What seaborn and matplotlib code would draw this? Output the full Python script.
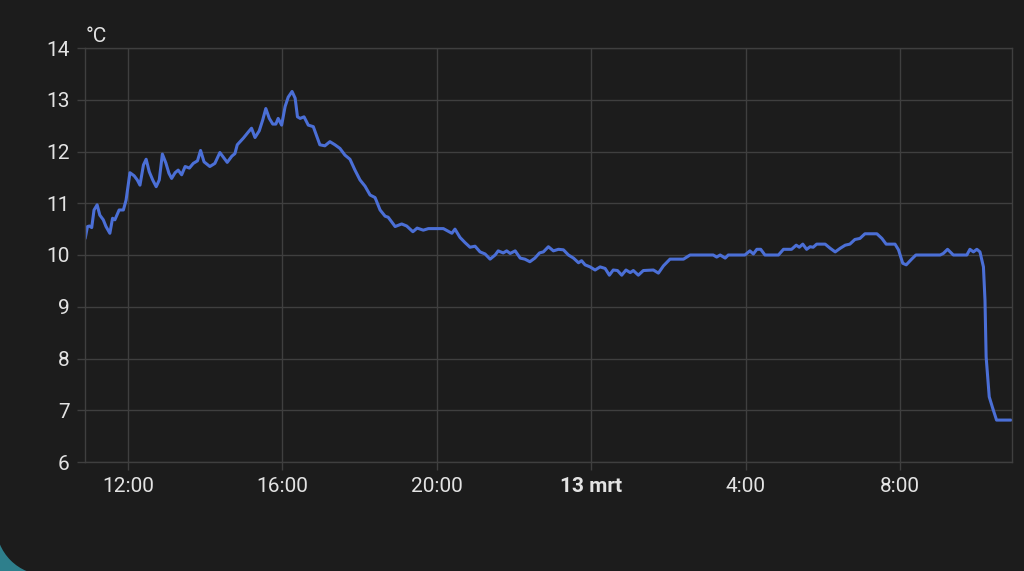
import matplotlib
matplotlib.use("Agg")
import matplotlib.pyplot as plt
import matplotlib.patches as mpatches
import seaborn as sns
import pandas as pd

# hours since 12 Mar 00:00
hours = [10.89, 10.95, 11.00, 11.06, 11.12, 11.20, 11.27, 11.36, 11.43, 11.53,
         11.60, 11.66, 11.77, 11.88, 11.95, 12.05, 12.16, 12.24, 12.31, 12.40,
         12.47, 12.55, 12.64, 12.73, 12.81, 12.89, 12.98, 13.06, 13.13, 13.22,
         13.30, 13.39, 13.48, 13.59, 13.69, 13.80, 13.88, 13.97, 14.12, 14.25,
         14.38, 14.49, 14.57, 14.69, 14.77, 14.83, 14.99, 15.12, 15.20, 15.29,
         15.40, 15.49, 15.57, 15.66, 15.75, 15.83, 15.89, 15.98, 16.07, 16.15,
         16.25, 16.33, 16.39, 16.46, 16.56, 16.67, 16.80, 16.97, 17.10, 17.23,
         17.36, 17.49, 17.62, 17.75, 17.88, 18.01, 18.14, 18.27, 18.40, 18.53,
         18.66, 18.74, 18.92, 19.09, 19.22, 19.38, 19.49, 19.65, 19.78, 20.00,
         20.17, 20.39, 20.47, 20.60, 20.73, 20.86, 20.99, 21.12, 21.25, 21.38,
         21.51, 21.59, 21.72, 21.81, 21.90, 22.03, 22.16, 22.28, 22.41, 22.54,
         22.66, 22.76, 22.89, 23.02, 23.15, 23.28, 23.41, 23.54, 23.67, 23.75,
         23.84, 23.97, 24.10, 24.23, 24.36, 24.47, 24.57, 24.68, 24.79, 24.90,
         25.01, 25.09, 25.22, 25.35, 25.61, 25.74, 25.87, 26.04, 26.39, 26.56,
         27.16, 27.25, 27.34, 27.47, 27.55, 27.98, 28.11, 28.20, 28.29, 28.39,
         28.50, 28.85, 28.98, 29.19, 29.31, 29.39, 29.48, 29.58, 29.67, 29.75,
         29.84, 30.06, 30.19, 30.32, 30.45, 30.58, 30.70, 30.83, 30.96, 31.09,
         31.40, 31.53, 31.64, 31.87, 31.96, 32.07, 32.16, 32.30, 32.41, 33.04,
         33.12, 33.23, 33.38, 33.73, 33.81, 33.90, 33.99, 34.07, 34.16, 34.20,
         34.23, 34.31, 34.40, 34.50, 34.87]
temps = [10.32, 10.55, 10.56, 10.53, 10.87, 10.97, 10.77, 10.68, 10.55, 10.42,
         10.71, 10.68, 10.87, 10.87, 11.06, 11.59, 11.53, 11.45, 11.35, 11.74,
         11.85, 11.61, 11.45, 11.32, 11.45, 11.95, 11.78, 11.58, 11.48, 11.59,
         11.64, 11.55, 11.71, 11.68, 11.77, 11.82, 12.02, 11.80, 11.71, 11.77,
         11.98, 11.87, 11.79, 11.91, 11.96, 12.13, 12.26, 12.38, 12.45, 12.27,
         12.40, 12.61, 12.83, 12.64, 12.53, 12.53, 12.64, 12.51, 12.87, 13.05,
         13.16, 13.03, 12.67, 12.64, 12.67, 12.51, 12.48, 12.13, 12.11, 12.19,
         12.13, 12.06, 11.93, 11.85, 11.64, 11.45, 11.33, 11.16, 11.11, 10.87,
         10.75, 10.73, 10.55, 10.60, 10.56, 10.45, 10.52, 10.48, 10.51, 10.51,
         10.51, 10.42, 10.50, 10.34, 10.24, 10.15, 10.17, 10.06, 10.02, 9.92,
         10.00, 10.08, 10.04, 10.08, 10.03, 10.08, 9.94, 9.92, 9.87, 9.94,
         10.04, 10.06, 10.16, 10.08, 10.11, 10.10, 10.00, 9.94, 9.85, 9.89,
         9.81, 9.77, 9.71, 9.77, 9.74, 9.61, 9.71, 9.70, 9.61, 9.71,
         9.66, 9.70, 9.61, 9.70, 9.71, 9.65, 9.79, 9.92, 9.92, 10.00,
         10.00, 9.96, 10.00, 9.94, 10.00, 10.00, 10.08, 10.02, 10.11, 10.11,
         10.00, 10.00, 10.11, 10.11, 10.19, 10.15, 10.21, 10.11, 10.16, 10.15,
         10.21, 10.21, 10.13, 10.06, 10.13, 10.19, 10.21, 10.30, 10.32, 10.41,
         10.41, 10.32, 10.21, 10.21, 10.10, 9.84, 9.81, 9.92, 10.00, 10.00,
         10.03, 10.11, 10.00, 10.00, 10.11, 10.06, 10.11, 10.06, 9.77, 9.13,
         8.03, 7.26, 7.04, 6.81, 6.81]

x_ticks = [12, 16, 20, 24, 28, 32]
x_labels = ["12:00", "16:00", "20:00", "13 mrt", "4:00", "8:00"]
y_ticks = [6, 7, 8, 9, 10, 11, 12, 13, 14]
unit = "°C"

BG = "#1c1c1c"
GRID = "#3f3f3f"
TXT = "#e3e3e3"
LINE = "#4b6fd6"

sns.set_theme(style="dark")
plt.rcParams["font.family"] = ["Roboto", "DejaVu Sans"]

df = pd.DataFrame({"t": hours, "temp": temps})

fig = plt.figure(figsize=(10.24, 5.71), dpi=100, facecolor=BG)
ax = fig.add_axes([85 / 1024, 1 - 462 / 571, (1012 - 85) / 1024, (462 - 48) / 571])
ax.set_facecolor(BG)

sns.lineplot(data=df, x="t", y="temp", ax=ax, color=LINE, linewidth=2.2)

ax.set_xlim(10.886, 34.90)
ax.set_ylim(6, 14)
ax.set_xticks(x_ticks)
ax.set_xticklabels(x_labels)
ax.set_yticks(y_ticks)
ax.set_xlabel("")
ax.set_ylabel("")
for lab in ax.get_xticklabels():
    if lab.get_text() == "13 mrt":
        lab.set_fontweight("bold")

ax.grid(True, color=GRID, linewidth=1.0)
ax.tick_params(axis="both", colors=GRID, labelcolor=TXT, labelsize=15,
               length=6, width=1.0, pad=5, bottom=True, left=True)
for s in ax.spines.values():
    s.set_color(GRID)
    s.set_linewidth(1.0)

fig.text(86 / 1024, 1 - 42 / 571, unit, color=TXT, fontsize=15, ha="left", va="baseline")

# teal corner of background card
teal = mpatches.Rectangle((0, 0), 42, 32, transform=None, facecolor="#2e7f8c",
                          edgecolor="none", zorder=0)
cover = mpatches.Circle((46, 571 - 525), 50, transform=None, facecolor=BG,
                        edgecolor="none", zorder=1)
fig.patches.extend([teal, cover])

fig.savefig("out.png", dpi=100, facecolor=BG)
